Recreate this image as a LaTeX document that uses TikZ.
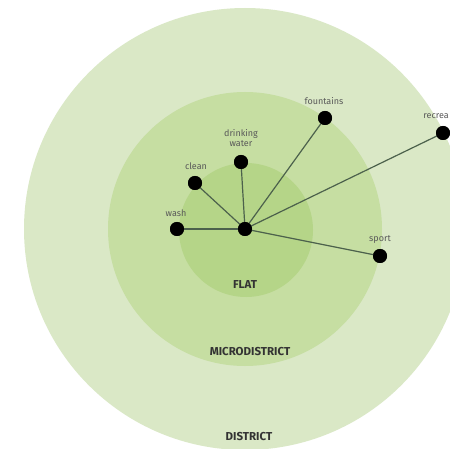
\documentclass[tikz,border=0pt]{standalone}
\usepackage{fontspec}
\setmainfont{Fira Sans}
\begin{document}
\begin{tikzpicture}[x=1pt,y=-1pt,
  dot/.style={circle,fill=black,inner sep=0pt,minimum size=14pt},
  lbl/.style={font=\fontsize{9}{9.5}\selectfont,text=black!65,inner sep=0pt,align=center},
  zone/.style={font=\fontsize{11.5}{12}\selectfont\bfseries,text=black!80,inner sep=0pt},
  link/.style={draw=black!80!green!40!gray,line width=1.2pt}]
\useasboundingbox (0,0) rectangle (450,449);
\clip (0,0) rectangle (450,449);
\definecolor{cdistrict}{HTML}{DAE8C6}
\definecolor{cmicro}{HTML}{C6DEA2}
\definecolor{cflat}{HTML}{B5D588}
\fill[white] (0,0) rectangle (450,449);
\fill[cdistrict] (245,229) circle (221);
\fill[cmicro] (245,229) circle (137);
\fill[cflat] (246,230) circle (67);
\node[zone] (tflat) at (245,285) {FLAT};
\node[zone] (tmicro) at (250,352) {MICRODISTRICT};
\node[zone] (tdistrict) at (249,437) {DISTRICT};
\node[dot] (c) at (245,229) {};
\node[dot] (wash) at (177,229) {};
\node[dot] (clean) at (195,183) {};
\node[dot] (drink) at (241,162) {};
\node[dot] (fount) at (325,118) {};
\node[dot] (recr) at (443,133) {};
\node[dot] (sport) at (380,256) {};
\node[lbl] (lwash) at (176,213) {wash};
\node[lbl] (lclean) at (196,166) {clean};
\node[lbl] (ldrink) at (241,138) {drinking\\water};
\node[lbl] (lfount) at (324,101) {fountains};
\node[lbl,anchor=east] (lrecr) at (449,116) {recrea};
\node[lbl] (lsport) at (380,240) {sport};
\foreach \n in {wash,clean,drink,fount,recr,sport}
  \draw[link] (c.center) -- (\n.center);
\foreach \n in {c,wash,clean,drink,fount,recr,sport}
  \fill[black] (\n) circle (7);
\end{tikzpicture}
\end{document}
